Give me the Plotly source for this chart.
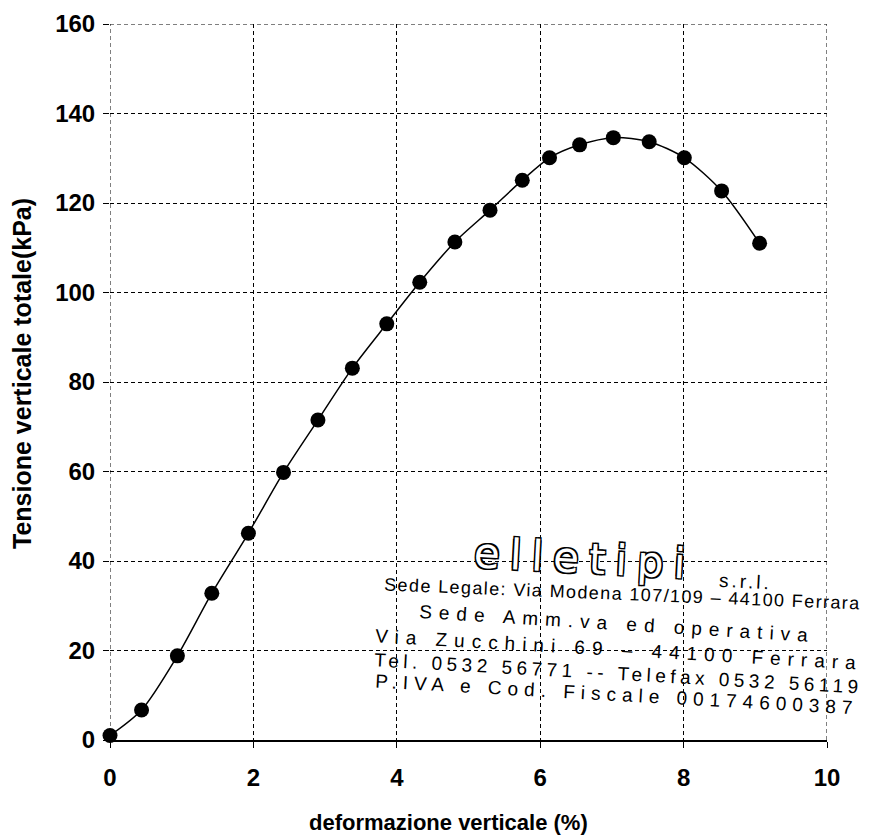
import plotly.graph_objects as go

# deformazione verticale (%)
deformazione = [0.0, 0.44, 0.94, 1.42, 1.93, 2.42, 2.90, 3.38, 3.86, 4.32,
                4.81, 5.30, 5.75, 6.13, 6.55, 7.02, 7.52, 8.01, 8.53, 9.06]
# Tensione verticale totale (kPa)
tensione = [1.0, 6.7, 18.8, 32.8, 46.2, 59.8, 71.5, 83.1, 93.0, 102.3,
            111.3, 118.4, 125.1, 130.1, 133.0, 134.6, 133.7, 130.1, 122.7, 111.0]

x_ticks = [0, 2, 4, 6, 8, 10]
y_ticks = [0, 20, 40, 60, 80, 100, 120, 140, 160]

x_title = "deformazione verticale (%)"
y_title = "Tensione verticale totale(kPa)"

stamp_logo = "elletipi"
stamp_srl = "s.r.l."
stamp_lines = [
    "Sede Legale: Via Modena 107/109 \u2013 44100 Ferrara",
    "Sede Amm.va ed operativa",
    "Via Zucchini 69 \u2013 44100 Ferrara",
    "Tel. 0532 56771 -- Telefax 0532 56119",
    "P.IVA e Cod. Fiscale 00174600387",
]

FONT = "Liberation Sans, Arial, sans-serif"

# target plot-area edges in the screenshot (page has an 8px body margin)
OFF = 8
X0, X1, Y0, Y1 = 110, 827, 24, 740
W, H = 872, 836
L, T = X0 - OFF, Y0 - OFF
R, B = W - (X1 - OFF), H - (Y1 - OFF)
pw, ph = X1 - X0, Y1 - Y0


def px(xp, yp):
    return (xp - X0) / pw, (Y1 - yp) / ph


fig = go.Figure()
fig.add_trace(go.Scatter(
    x=deformazione, y=tensione, mode="lines+markers",
    line=dict(color="black", width=1.5, shape="spline", smoothing=0.8),
    marker=dict(color="black", size=15),
    cliponaxis=False, showlegend=False,
))

axis_common = dict(
    showgrid=True, gridcolor="black", gridwidth=1, griddash="4px,3px",
    zeroline=False, ticks="outside", ticklen=6, tickcolor="black",
    tickfont=dict(family=FONT, size=24, color="black", weight="bold"),
)

fig.update_xaxes(
    range=[0, 10], tickvals=x_ticks, showline=True, linecolor="black", linewidth=1.5,
    ticklabelstandoff=9,
    **axis_common,
)
fig.update_yaxes(
    range=[0, 160], tickvals=y_ticks, showline=False,
    ticklabelstandoff=3,
    **axis_common,
)

# plot border drawn as dashed lines like the grid (left, right, top)
edge = dict(color="black", width=1, dash="4px,3px")
fig.add_shape(type="line", xref="x", yref="y", x0=0, x1=0, y0=0, y1=160, line=edge)
fig.add_shape(type="line", xref="x", yref="y", x0=10, x1=10, y0=0, y1=160, line=edge)
fig.add_shape(type="line", xref="x", yref="y", x0=0, x1=10, y0=160, y1=160, line=edge)

# axis titles
tx, ty = px(22, 374)
fig.add_annotation(x=tx, y=ty, xref="paper", yref="paper", showarrow=False,
                   xanchor="center", yanchor="middle", textangle=-90, text=y_title,
                   font=dict(family=FONT, size=25, color="black", weight="bold"))
tx, ty = px(448, 823)
fig.add_annotation(x=tx, y=ty, xref="paper", yref="paper", showarrow=False,
                   xanchor="center", yanchor="middle", text=x_title,
                   font=dict(family=FONT, size=22, color="black", weight="bold"))

# rubber stamp
ax_, ay_ = px(584, 558)
fig.add_annotation(
    x=ax_, y=ay_, xref="paper", yref="paper", showarrow=False, textangle=3,
    xanchor="center", yanchor="middle",
    text='<span style="letter-spacing:10px">' + stamp_logo + '</span>',
    font=dict(family="DejaVu Sans", size=42, color="white",
              shadow="1.5px 1.5px 0 #000, -1.5px -1.5px 0 #000, 1.5px -1.5px 0 #000, -1.5px 1.5px 0 #000"),
)
sx, sy = px(745, 581)
fig.add_annotation(x=sx, y=sy, xref="paper", yref="paper", showarrow=False,
                   xanchor="center", yanchor="middle", textangle=3,
                   text='<span style="letter-spacing:3px">' + stamp_srl + '</span>',
                   font=dict(family=FONT, size=19, color="black"))

line_pos = [(622, 594, 18, 1.4, 2.3), (617, 623, 19, 7, 3.5), (619, 649, 19, 7, 3.2),
            (618, 673, 19, 4.5, 3.2), (617, 694, 19, 6, 3.2)]
for text, (xp, yp, fs, ls, ang) in zip(stamp_lines, line_pos):
    ux, uy = px(xp, yp)
    fig.add_annotation(
        x=ux, y=uy, xref="paper", yref="paper", showarrow=False, textangle=ang,
        xanchor="center", yanchor="middle",
        text=f'<span style="letter-spacing:{ls}px">{text}</span>',
        font=dict(family=FONT, size=fs, color="black"),
    )

fig.update_layout(
    width=W, height=H,
    margin=dict(l=L, r=R, t=T, b=B, autoexpand=False),
    paper_bgcolor="white", plot_bgcolor="white",
)

fig.write_html("out.html")
